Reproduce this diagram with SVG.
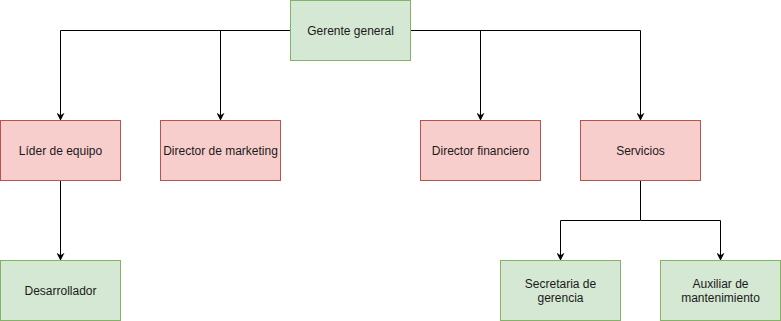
<svg xmlns="http://www.w3.org/2000/svg" width="781" height="321" viewBox="0 0 781 321">
  <defs>
    <marker id="arrow" viewBox="0 0 10 10" refX="9" refY="5" markerWidth="8" markerHeight="8" markerUnits="userSpaceOnUse" orient="auto">
      <path d="M0,0 L10,5 L0,10 L3,5 Z" fill="#000"/>
    </marker>
    <style>
      .green { fill: #d5e8d4; stroke: #82b366; stroke-width: 1; }
      .red { fill: #f8cecc; stroke: #b85450; stroke-width: 1; }
      .edge { fill: none; stroke: #000; stroke-width: 1; marker-end: url(#arrow); }
      text { font-family: "Liberation Sans", Arial, Helvetica, sans-serif; font-size: 12px; fill: #1a1a1a; text-anchor: middle; dominant-baseline: central; }
    </style>
  </defs>
  <rect width="781" height="321" fill="#fff"/>

  <g id="connectors">
    <path class="edge" d="M290.5,30.5 H60.5 V120"/>
    <path class="edge" d="M290.5,30.5 H220.5 V120"/>
    <path class="edge" d="M410.5,30.5 H480.5 V120"/>
    <path class="edge" d="M410.5,30.5 H640.5 V120"/>
    <path class="edge" d="M60.5,180.5 V260"/>
    <path class="edge" d="M640.5,180.5 V220.5 H560.5 V260"/>
    <path class="edge" d="M640.5,220.5 H720.5 V260"/>
  </g>

  <g id="gerente-general">
    <rect class="green" x="290.5" y="0.5" width="120" height="60"/>
    <text x="350.5" y="30.5">Gerente general</text>
  </g>
  <g id="lider-equipo">
    <rect class="red" x="0.5" y="120.5" width="120" height="60"/>
    <text x="60.5" y="150.5">Líder de equipo</text>
  </g>
  <g id="director-marketing">
    <rect class="red" x="160.5" y="120.5" width="120" height="60"/>
    <text x="220.5" y="150.5">Director de marketing</text>
  </g>
  <g id="director-financiero">
    <rect class="red" x="420.5" y="120.5" width="120" height="60"/>
    <text x="480.5" y="150.5">Director financiero</text>
  </g>
  <g id="servicios">
    <rect class="red" x="580.5" y="120.5" width="120" height="60"/>
    <text x="640.5" y="150.5">Servicios</text>
  </g>
  <g id="desarrollador">
    <rect class="green" x="0.5" y="260.5" width="120" height="60"/>
    <text x="60.5" y="290.5">Desarrollador</text>
  </g>
  <g id="secretaria-gerencia">
    <rect class="green" x="500.5" y="260.5" width="120" height="60"/>
    <text x="560.5" y="283.5">Secretaria de</text>
    <text x="560.5" y="297.5">gerencia</text>
  </g>
  <g id="auxiliar-mantenimiento">
    <rect class="green" x="660.5" y="260.5" width="120" height="60"/>
    <text x="720.5" y="283.5">Auxiliar de</text>
    <text x="720.5" y="297.5">mantenimiento</text>
  </g>
</svg>
